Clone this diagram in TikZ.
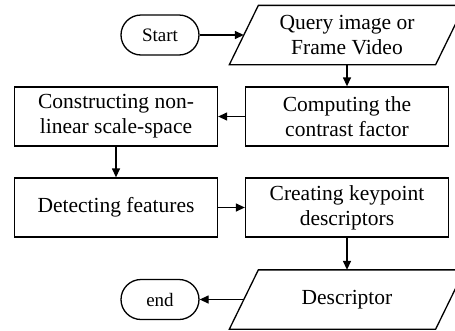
\documentclass[tikz,border=0pt]{standalone}
\usepackage{fontspec}
\setmainfont{Liberation Serif}
\usetikzlibrary{arrows.meta}
\begin{document}
\begin{tikzpicture}[x=1pt,y=-1pt,
  every node/.style={font=\fontsize{21.5}{25}\selectfont, align=center, line width=1.3pt},
  box/.style={draw, rectangle, minimum width=203pt, minimum height=59pt, inner sep=0pt},
  term/.style={draw, rectangle, rounded corners=20pt, minimum width=78pt, minimum height=40pt, inner sep=0pt, font=\fontsize{19}{22}\selectfont},
  iotext/.style={rectangle, minimum width=205pt, minimum height=58pt, inner sep=0pt},
  para/.style={line width=1.3pt},
  arr/.style={line width=1.3pt, -{Triangle[length=9pt,width=8pt]}}
]
\useasboundingbox (0,0) rectangle (455,330);
\node[term] (start) at (160,35) {Start};
\node[iotext] (query) at (347,35) {Query image or\\Frame Video};
\draw[para] ([xshift=-14.5pt]query.south west) -- ([xshift=14.5pt]query.north west)
  -- ([xshift=14.5pt]query.north east) -- ([xshift=-14.5pt]query.south east) -- cycle;
\node[box] (comp) at (347,116.5) {Computing the\\contrast factor};
\node[box] (cons) at (116,116.5) {Constructing non-\\linear scale-space};
\node[box] (det) at (116,207.5) {Detecting features};
\node[box] (cre) at (347,207.5) {Creating keypoint\\descriptors};
\node[iotext] (desc) at (347,299.5) {Descriptor};
\draw[para] ([xshift=-14.5pt]desc.south west) -- ([xshift=14.5pt]desc.north west)
  -- ([xshift=14.5pt]desc.north east) -- ([xshift=-14.5pt]desc.south east) -- cycle;
\node[term] (endn) at (160,299.5) {end};
\draw[arr] (start) -- (query.west);
\draw[arr] (query) -- (comp);
\draw[arr] (comp) -- (cons);
\draw[arr] (cons) -- (det);
\draw[arr] (det) -- (cre);
\draw[arr] (cre) -- (desc);
\draw[arr] (desc.west) -- (endn);
\end{tikzpicture}
\end{document}
